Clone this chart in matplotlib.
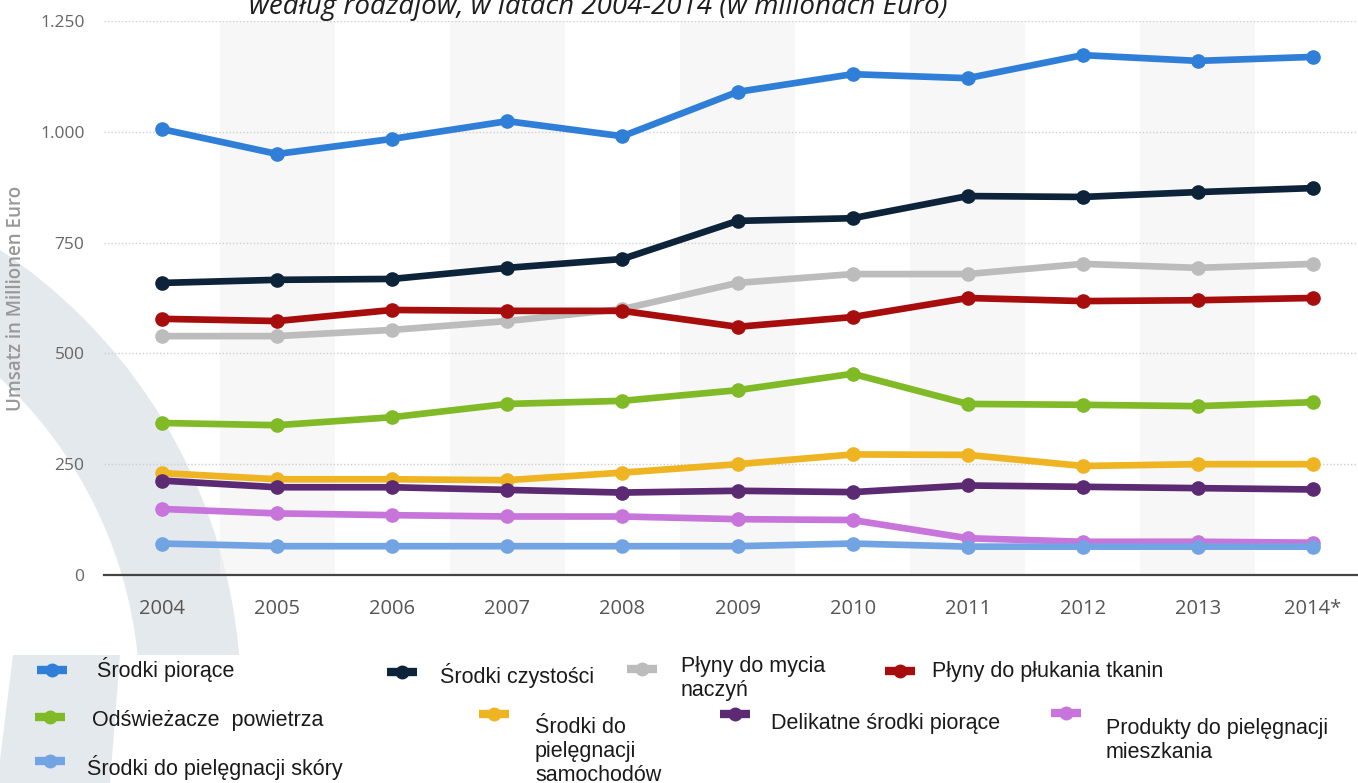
import matplotlib
matplotlib.use("Agg")
import matplotlib.pyplot as plt
from matplotlib.patches import Wedge, Polygon, Rectangle
from matplotlib.lines import Line2D

# Umsatz nach Produktgruppen, Mio. Euro
years = ["2004", "2005", "2006", "2007", "2008", "2009",
         "2010", "2011", "2012", "2013", "2014*"]

srodki_piorace = [1006, 950, 984, 1024, 990, 1090, 1130, 1121, 1173, 1160, 1169]
srodki_czystosci = [659, 666, 668, 693, 713, 799, 805, 855, 853, 864, 873]
plyny_mycia = [539, 539, 553, 573, 600, 659, 679, 679, 702, 693, 702]
plyny_plukania = [578, 573, 598, 596, 596, 560, 582, 625, 618, 620, 625]
odswiezacze = [343, 338, 356, 386, 393, 417, 454, 386, 384, 381, 390]
samochody = [230, 216, 216, 214, 231, 250, 272, 271, 246, 250, 250]
delikatne = [213, 198, 198, 192, 186, 190, 187, 202, 199, 196, 193]
mieszkanie = [149, 139, 135, 132, 132, 126, 124, 83, 75, 75, 73]
skora = [71, 65, 65, 65, 65, 65, 71, 64, 64, 64, 64]

series = [
    ("Środki piorące", srodki_piorace, "#2f7ed8"),
    ("Środki czystości", srodki_czystosci, "#0d233a"),
    ("Płyny do mycia\nnaczyń", plyny_mycia, "#bcbcbc"),
    ("Płyny do płukania tkanin", plyny_plukania, "#a80d0d"),
    ("Odświeżacze  powietrza", odswiezacze, "#80ba27"),
    ("Środki do\npielęgnacji\nsamochodów", samochody, "#eeb422"),
    ("Delikatne środki piorące", delikatne, "#5b2a72"),
    ("Produkty do pielęgnacji\nmieszkania", mieszkanie, "#c774db"),
    ("Środki do pielęgnacji skóry", skora, "#72a4e3"),
]

ytick_vals = [0, 250, 500, 750, 1000, 1250]
ytick_text = ["0", "250", "500", "750", "1.000", "1.250"]

# legend layout in pixels: handle centre x, handle y, text x, first baseline
legend_pos = [
    (52, 670, 97, 677),
    (402, 672, 440, 683),
    (642, 669, 681, 672),
    (900, 671, 932, 677),
    (50, 717, 92, 726),
    (494, 714, 535, 733),
    (735, 714, 771, 729),
    (1066, 713, 1106, 734),
    (50, 761, 87, 775),
]

W, H = 1358, 783
fig = plt.figure(figsize=(W / 100, H / 100), dpi=100)

# background layer in pixel coordinates
bg = fig.add_axes([0, 0, 1, 1], zorder=0)
bg.set_xlim(0, W)
bg.set_ylim(H, 0)
bg.axis("off")
arc_col = "#e4e9ee"
bg.add_patch(Wedge((-300, 700), 541, 0, 360, width=101, facecolor=arc_col, edgecolor="none", zorder=1))
bg.add_patch(Rectangle((0, 655), W, H - 655, facecolor="white", edgecolor="none", zorder=2))
bg.add_patch(Polygon([(13, 655), (120, 655), (110, H), (0, H), (0, 760)],
                     closed=True, facecolor=arc_col, edgecolor="none", zorder=3))

# legend
for (label, vals, col), (hx, hy, tx, ty) in zip(series, legend_pos):
    bg.add_line(Line2D([hx - 15, hx + 15], [hy, hy], color=col, lw=6,
                       solid_capstyle="butt", zorder=4))
    bg.plot([hx], [hy], "o", color=col, ms=9, zorder=5)
    for k, line in enumerate(label.split("\n")):
        bg.text(tx, ty + 24 * k, line, fontsize=15.5, family="Liberation Sans",
                color="#1a1a1a", va="baseline", ha="left", zorder=6)

# title (upper line lies outside the canvas)
bg.text(598, 14, "według rodzajów, w latach 2004-2014 (w milionach Euro)",
        fontsize=20, family="Open Sans", style="italic", color="#1e1e1e",
        ha="center", va="baseline", zorder=6)

ax = fig.add_axes([104 / W, (H - 575) / H, 1 - 104 / W, (575 - 21) / H], zorder=1)
ax.patch.set_alpha(0)
x = list(range(len(years)))
for i in x:
    if i % 2 == 1:
        ax.axvspan(i - 0.5, i + 0.5, color="#f2f2f2", alpha=0.6, lw=0, zorder=0)

for label, vals, col in series:
    ax.plot(x, vals, color=col, lw=4.8, marker="o", ms=9.5, solid_joinstyle="round",
            zorder=3)

ax.set_xlim(-0.504, 10.391)
ax.set_ylim(0, 1250)
ax.set_yticks(ytick_vals)
ax.set_yticklabels(ytick_text)
ax.set_xticks(x)
ax.set_xticklabels(years)
ax.grid(axis="y", linestyle=(0, (1, 1.5)), color="#cfcfcf", lw=1, zorder=1)
ax.tick_params(axis="y", length=0, pad=14, labelsize=12.5, labelcolor="#666666")
ax.tick_params(axis="x", length=0, pad=17, labelsize=14.5, labelcolor="#555555")
for t in ax.get_xticklabels() + ax.get_yticklabels():
    t.set_family("Open Sans")
for s in ["top", "right", "left"]:
    ax.spines[s].set_visible(False)
ax.spines["bottom"].set_color("#444444")
ax.spines["bottom"].set_linewidth(1.6)
ax.set_ylabel("Umsatz in Millionen Euro", fontsize=13.5, family="Open Sans",
              fontweight="semibold", color="#999999", labelpad=10)

fig.savefig("out.png", dpi=100)
